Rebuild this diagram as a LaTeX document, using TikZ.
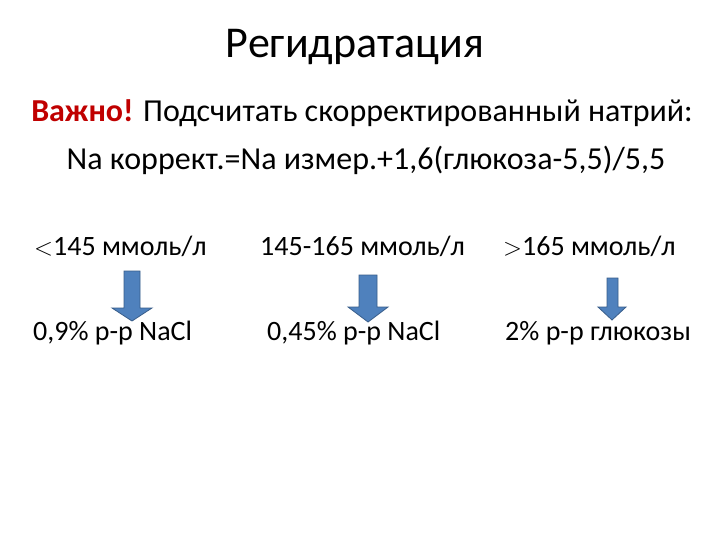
\documentclass[tikz,border=0pt]{standalone}
\usepackage{fontspec}
\setmainfont{Carlito}
\usepackage{xcolor}
\definecolor{slideblue}{HTML}{4F81BD}
\definecolor{slideedge}{HTML}{385D8A}
\definecolor{slidered}{HTML}{C00000}
\tikzset{
  headline/.style={font=\fontsize{44}{52}\selectfont,inner sep=0},
  bodyline/.style={font=\fontsize{32}{38}\selectfont,inner sep=0},
  rowlabel/.style={font=\fontsize{28}{33}\selectfont,inner sep=0,anchor=west},
  bluearrow/.style={fill=slideblue,draw=slideedge,line width=0.8pt}
}
\begin{document}
\begin{tikzpicture}[x=1pt,y=-1pt]
\useasboundingbox[fill=white] (0,0) rectangle (720,540);
\node[headline] (title) at (355,47) {Регидратация};
\node[bodyline] (warn) at (362,113) {\textcolor{slidered}{\textbf{Важно!}} Подсчитать скорректированный натрий:};
\node[bodyline] (formula) at (366,160) {Na коррект.=Na измер.+1,6(глюкоза-5,5)/5,5};
\node[rowlabel] (lowNa) at (34,246) {$<$145 ммоль/л};
\node[rowlabel] (midNa) at (260,246) {145-165 ммоль/л};
\node[rowlabel] (highNa) at (503,246) {$>$165 ммоль/л};
\node[rowlabel] (lowSol) at (33,333) {0,9\% р-р NaCl};
\node[rowlabel] (midSol) at (267,333) {0,45\% р-р NaCl};
\node[rowlabel] (highSol) at (505,333) {2\% р-р глюкозы};
% arrows
\filldraw[bluearrow] (124,271) -- (140,271) -- (140,308) -- (152,308) -- (132,321) -- (112,308) -- (124,308) -- cycle;
\filldraw[bluearrow] (359,275) -- (377,275) -- (377,307) -- (388,307) -- (368,322) -- (348,307) -- (359,307) -- cycle;
\filldraw[bluearrow] (607,278) -- (618,278) -- (618,307) -- (626,307) -- (612,320) -- (598,307) -- (607,307) -- cycle;
\end{tikzpicture}
\end{document}
